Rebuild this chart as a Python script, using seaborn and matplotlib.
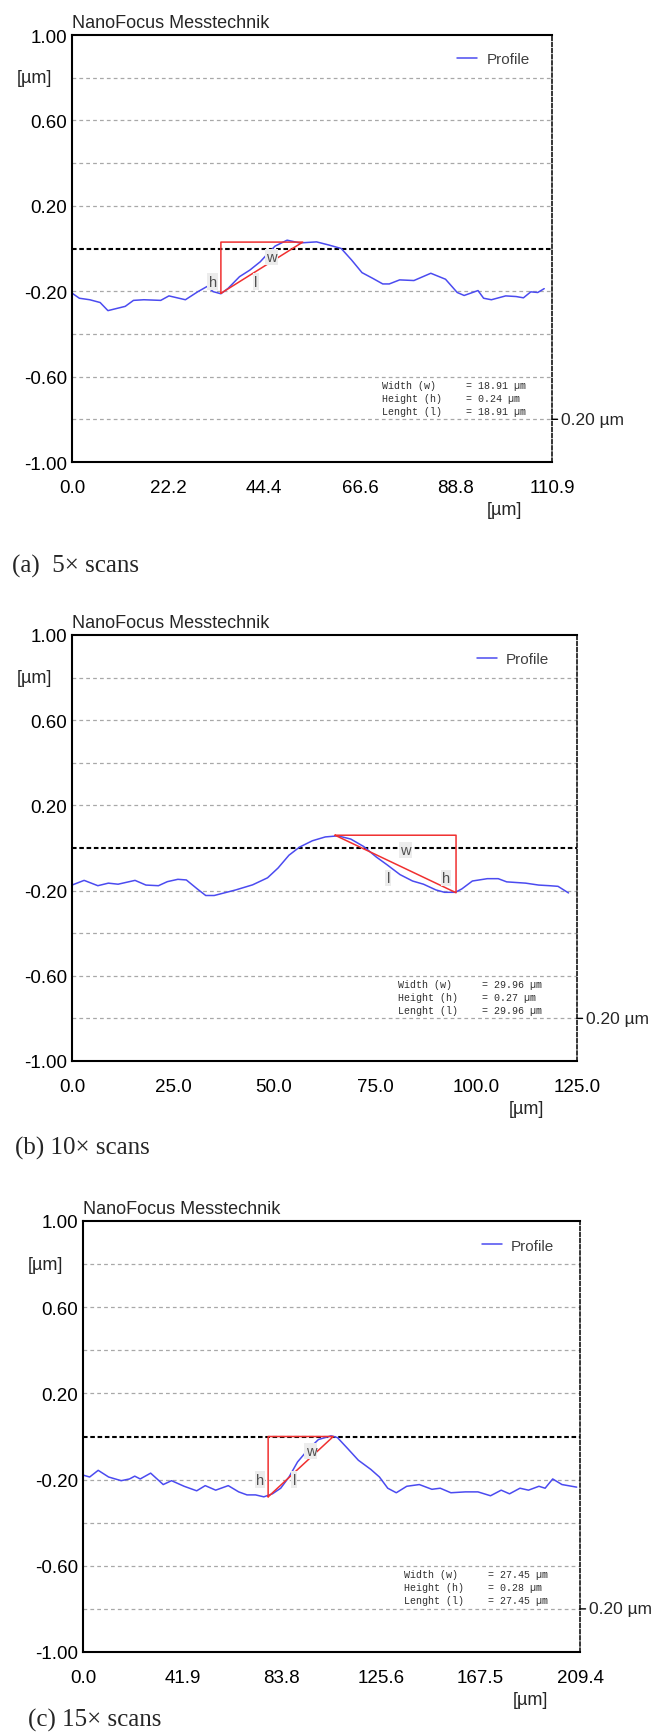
import numpy as np
import pandas as pd
import seaborn as sns
import matplotlib.pyplot as plt
import matplotlib.transforms as mtransforms

# (a) 5x scans
x_a = [0.0, 1.7, 4.1, 6.5, 8.3, 12.3, 14.2, 16.6, 20.5, 22.4, 26.2, 29.1, 31.2, 32.6,
       34.4, 36.1, 38.7, 41.1, 43.5, 44.9, 46.9, 49.7, 52.6, 56.5, 59.4, 62.2, 64.6,
       67.0, 69.5, 71.8, 73.3, 75.7, 79.0, 82.9, 86.3, 89.0, 90.6, 93.8, 95.1, 96.9,
       100.2, 102.6, 104.3, 106.0, 107.6, 109.1]
y_a = [-0.209, -0.233, -0.240, -0.253, -0.291, -0.271, -0.243, -0.240, -0.243, -0.222,
       -0.240, -0.202, -0.178, -0.202, -0.212, -0.186, -0.132, -0.101, -0.062, -0.031,
       0.011, 0.039, 0.026, 0.031, 0.016, 0.0, -0.054, -0.113, -0.140, -0.166, -0.166,
       -0.147, -0.150, -0.116, -0.144, -0.206, -0.220, -0.197, -0.233, -0.240, -0.222,
       -0.225, -0.231, -0.203, -0.206, -0.188]
xmax_a = 110.9
xticks_a = ["0.0", "22.2", "44.4", "66.6", "88.8", "110.9"]
tri_x_a = [34.4, 34.4, 53.31, 34.4]
tri_y_a = [-0.21, 0.03, 0.03, -0.21]
marks_a = [("h", 32.5, -0.155), ("l", 42.5, -0.155), ("w", 46.1, -0.04)]
meas_a = ["18.91", "0.24", "18.91"]

# (b) 10x scans
x_b = [0.0, 3.0, 6.4, 9.0, 11.4, 15.6, 18.3, 21.4, 23.6, 26.2, 28.3, 31.0, 33.1, 35.2,
       40.5, 44.7, 48.4, 51.0, 53.7, 56.3, 59.5, 62.7, 65.8, 69.0, 72.2, 75.3, 78.0,
       81.2, 84.3, 87.0, 90.1, 92.2, 94.9, 96.5, 99.1, 102.8, 105.5, 107.6, 112.3,
       115.5, 118.2, 120.3, 122.9]
y_b = [-0.174, -0.152, -0.177, -0.165, -0.170, -0.152, -0.174, -0.177, -0.158, -0.147,
       -0.150, -0.192, -0.223, -0.223, -0.197, -0.173, -0.140, -0.094, -0.034, 0.004,
       0.034, 0.052, 0.057, 0.042, 0.007, -0.042, -0.079, -0.125, -0.155, -0.170, -0.197,
       -0.208, -0.208, -0.192, -0.155, -0.144, -0.144, -0.159, -0.165, -0.174, -0.177,
       -0.180, -0.211]
xmax_b = 125.0
xticks_b = ["0.0", "25.0", "50.0", "75.0", "100.0", "125.0"]
tri_x_b = [65.1, 95.06, 95.06, 65.1]
tri_y_b = [0.06, 0.06, -0.21, 0.06]
marks_b = [("w", 82.5, -0.008), ("l", 78.3, -0.14), ("h", 92.6, -0.14)]
meas_b = ["29.96", "0.27", "29.96"]

# (c) 15x scans
x_c = [0.0, 2.8, 6.4, 10.8, 16.1, 19.6, 21.8, 24.1, 28.5, 33.8, 37.3, 42.6, 47.9, 51.5,
       55.9, 61.2, 65.6, 69.1, 72.7, 76.2, 79.8, 83.3, 86.8, 90.4, 94.8, 99.2, 104.5,
       107.2, 111.6, 116.0, 121.3, 124.9, 128.4, 132.0, 136.4, 141.7, 147.0, 150.5,
       155.0, 161.1, 166.4, 171.7, 176.2, 179.7, 184.1, 187.7, 192.1, 194.7, 197.9,
       201.8, 204.4, 208.0]
y_c = [-0.179, -0.188, -0.157, -0.188, -0.205, -0.197, -0.184, -0.197, -0.170, -0.223,
       -0.205, -0.231, -0.252, -0.228, -0.249, -0.228, -0.257, -0.271, -0.271, -0.280,
       -0.266, -0.240, -0.188, -0.118, -0.061, -0.014, 0.003, -0.005, -0.057, -0.110,
       -0.153, -0.188, -0.240, -0.261, -0.231, -0.223, -0.245, -0.240, -0.261, -0.257,
       -0.257, -0.275, -0.249, -0.266, -0.240, -0.249, -0.231, -0.240, -0.197, -0.223,
       -0.228, -0.235]
xmax_c = 209.4
xticks_c = ["0.0", "41.9", "83.8", "125.6", "167.5", "209.4"]
tri_x_c = [78.0, 78.0, 105.45, 78.0]
tri_y_c = [-0.28, 0.0, 0.0, -0.28]
marks_c = [("h", 74.5, -0.2), ("l", 89.0, -0.2), ("w", 96.0, -0.066)]
meas_c = ["27.45", "0.28", "27.45"]

yticks = [-1.0, -0.8, -0.6, -0.4, -0.2, 0.0, 0.2, 0.4, 0.6, 0.8, 1.0]
ylabels = ["-1.00", "", "-0.60", "", "-0.20", "", "0.20", "", "0.60", "", "1.00"]
captions = ["(a)  5\u00d7 scans", "(b) 10\u00d7 scans", "(c) 15\u00d7 scans"]

BLUE = "#4b4bf0"
RED = "#f03030"

sns.set_style("white")
plt.rcParams['font.family'] = ['Liberation Sans', 'DejaVu Sans']

W, H = 657, 1733
fig = plt.figure(figsize=(W / 100, H / 100), dpi=100)

# axes boxes in pixels: left, top, right, bottom
boxes = [(72, 36, 552, 463), (72, 636, 577, 1062), (83, 1222, 580, 1653)]
cap_pos = [(12, 573), (15, 1155), (28, 1727)]

panels = [
    (x_a, y_a, xmax_a, xticks_a, tri_x_a, tri_y_a, marks_a, meas_a),
    (x_b, y_b, xmax_b, xticks_b, tri_x_b, tri_y_b, marks_b, meas_b),
    (x_c, y_c, xmax_c, xticks_c, tri_x_c, tri_y_c, marks_c, meas_c),
]


def draw_panel(ax, x, y, xmax, xlabels, tri_x, tri_y, marks, meas):
    df = pd.DataFrame({'x': x, 'y': y})
    sns.lineplot(data=df, x='x', y='y', ax=ax, color=BLUE, lw=1.1,
                 label='Profile', legend=False)
    ax.plot(tri_x, tri_y, color=RED, lw=1.1)

    for gy in yticks[1:-1]:
        if gy == 0.0:
            ax.axhline(gy, color='black', lw=1.5, ls=(0, (2.2, 1.3)), zorder=1)
        else:
            ax.axhline(gy, color='#a8a8a8', lw=0.9, ls=(0, (3, 2.5)), zorder=1)

    ax.set_xlim(0, xmax)
    ax.set_ylim(-1, 1)
    major = np.linspace(0, xmax, 6)
    ax.set_xticks(major)
    ax.set_xticklabels(xlabels)
    ax.set_xticks((major[:-1] + major[1:]) / 2, minor=True)
    ax.set_yticks(yticks)
    ax.set_yticklabels(ylabels)
    ax.set_xlabel('')
    ax.set_ylabel('')

    ax.tick_params(axis='both', which='both', direction='in', color='black', width=1.3,
                   labelsize=13.5, labelcolor='black')
    ax.tick_params(axis='x', which='both', length=5, pad=12)
    ax.tick_params(axis='y', length=4, pad=3.5)

    for side in ['left', 'bottom', 'top']:
        ax.spines[side].set_color('black')
        ax.spines[side].set_linewidth(1.5)
    ax.spines['right'].set_color('black')
    ax.spines['right'].set_linewidth(1.1)
    ax.spines['right'].set_linestyle((0, (2.5, 1.5)))

    trans = mtransforms.blended_transform_factory(ax.transAxes, ax.transData)
    ax.annotate('NanoFocus Messtechnik', xy=(0, 1), xycoords='axes fraction',
                xytext=(0, 5.5), textcoords='offset points', ha='left', va='baseline',
                fontsize=13)
    ax.annotate('[\u00b5m]', xy=(0, 0.8), xycoords=trans, xytext=(-27, 0),
                textcoords='offset points', ha='center', va='center', fontsize=13)
    ax.annotate('[\u00b5m]', xy=(0.9, 0), xycoords='axes fraction', xytext=(0, -34),
                textcoords='offset points', ha='center', va='center', fontsize=13)
    ax.annotate('', xy=(1, -0.8), xycoords=trans, xytext=(4, 0), textcoords='offset points',
                arrowprops=dict(arrowstyle='-', color='black', lw=1.0, shrinkA=0, shrinkB=0),
                annotation_clip=False)
    ax.annotate('0.20 \u00b5m', xy=(1, -0.8), xycoords=trans, xytext=(6.5, 0),
                textcoords='offset points', ha='left', va='center', fontsize=12.5,
                annotation_clip=False)

    for letter, mx, my in marks:
        ax.text(mx, my, letter, ha='center', va='center', fontsize=10.5, color='#505050',
                bbox=dict(boxstyle='square,pad=0.08', fc='#ececec', ec='none'), zorder=4)

    names = ["Width (w)     = ", "Height (h)    = ", "Lenght (l)    = "]
    for i, (name, val) in enumerate(zip(names, meas)):
        ax.text(0.645, 0.18 - i * 0.03, f"{name}{val} \u00b5m", transform=ax.transAxes,
                family=['Liberation Mono', 'DejaVu Sans Mono'], fontsize=7.2,
                color='#303030', ha='left', va='center')

    ax.legend(loc='center left', bbox_to_anchor=(0.79, 0.943), frameon=False,
              fontsize=11, handlelength=1.3, handletextpad=0.6, labelcolor='#404040',
              borderaxespad=0)


for (l, t, r, b), pdata, cap, (cx, cy) in zip(boxes, panels, captions, cap_pos):
    ax = fig.add_axes([l / W, 1 - b / H, (r - l) / W, (b - t) / H])
    draw_panel(ax, *pdata)
    fig.text(cx / W, 1 - cy / H, cap, family=['Liberation Serif', 'DejaVu Serif'],
             fontsize=18, va='baseline', ha='left')

fig.savefig('out.png', dpi=100)
